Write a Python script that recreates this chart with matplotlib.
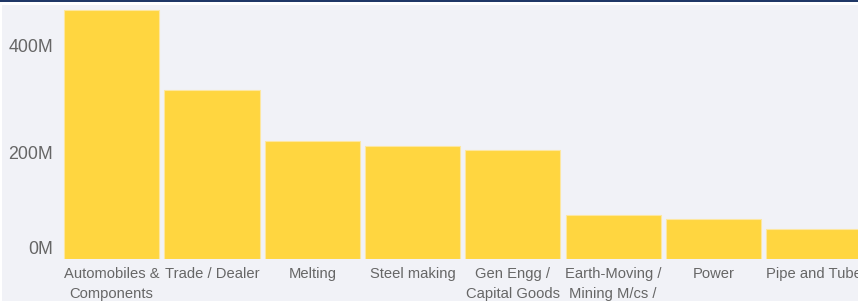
import matplotlib
matplotlib.use("Agg")
import matplotlib.pyplot as plt
from matplotlib.patches import Rectangle
from matplotlib.transforms import ScaledTranslation

# Data (values in millions)
categories = ["Automobiles &\nComponents", "Trade / Dealer", "Melting", "Steel making",
              "Gen Engg /\nCapital Goods", "Earth-Moving /\nMining M/cs /",
              "Power", "Pipe and Tube"]
values_m = [465, 316, 221, 211, 203, 82, 74, 55.5]
yticks_m = [0, 200, 400]
ytick_labels = ["0M", "200M", "400M"]

BG = "#f1f2f7"
BAR = "#ffd640"
TXT = "#666666"

W, H = 858, 301
fig = plt.figure(figsize=(W / 100, H / 100), dpi=100, facecolor=BG)

# top header line + white margins
fig.patches.append(Rectangle((0, 1 - 4.5 / H), 1, 4.5 / H, transform=fig.transFigure,
                             facecolor="white", edgecolor="none", zorder=0))
fig.patches.append(Rectangle((0, 1 - 2 / H), 1, 2 / H, transform=fig.transFigure,
                             facecolor="#1f3766", edgecolor="none", zorder=1))
fig.patches.append(Rectangle((0, 0), 2 / W, 1, transform=fig.transFigure,
                             facecolor="white", edgecolor="none", zorder=0))

ax = fig.add_axes([61.5 / W, 42 / H, 1 - 61.5 / W, 254 / H])
ax.set_facecolor(BG)

x = range(len(categories))
ax.bar(x, [v * 1e6 for v in values_m], width=0.948, color=BAR,
       edgecolor="#fde7a0", linewidth=0.8)

ax.set_xlim(-0.5, 7.44)
ax.set_ylim(0, 475e6)

ax.set_yticks([v * 1e6 for v in yticks_m])
ax.set_yticklabels(ytick_labels, fontsize=12.8, color=TXT,
                   family=["Liberation Sans", "DejaVu Sans"])
ax.set_xticks(list(x))
ax.set_xticklabels(categories, fontsize=10.6, color=TXT, linespacing=1.55,
                   family=["Liberation Sans", "DejaVu Sans"])
ax.tick_params(axis="y", length=0, pad=6)
ax.tick_params(axis="x", length=0, pad=6)

# the 0M label sits a bit above the baseline
lab0 = ax.get_yticklabels()[0]
lab0.set_transform(lab0.get_transform() + ScaledTranslation(0, 12 / 100, fig.dpi_scale_trans))

for s in ax.spines.values():
    s.set_visible(False)

fig.savefig("out.png", dpi=100, facecolor=BG)
